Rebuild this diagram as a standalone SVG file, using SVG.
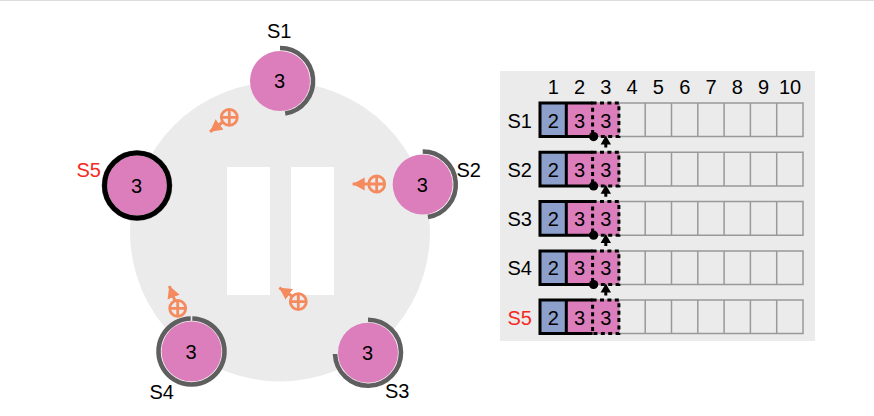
<svg xmlns="http://www.w3.org/2000/svg" xmlns:xlink="http://www.w3.org/1999/xlink" width="874" height="416" viewBox="0 0 874 416">
<style>
text{font-family:"Liberation Sans",Arial,sans-serif;font-size:20px;fill:#000}
.m{text-anchor:middle}
.red{fill:#f5291e}
.disc{fill:#dc7ebb}
.arc{fill:none;stroke:#5f5f5f;stroke-width:4.6}
.ring{fill:none;stroke:#000;stroke-width:5}
.o{fill:none;stroke:#f58a5e;stroke-width:2.8}
.a{fill:none;stroke:#f58a5e;stroke-width:3;marker-end:url(#ah)}
.g{fill:#ebebeb;stroke:#999;stroke-width:1.5}
.b{fill:#8da0cb}
.p{fill:#dc7ebb}
.s{fill:none;stroke:#000;stroke-width:3}
.d{fill:none;stroke:#000;stroke-width:3;stroke-dasharray:4 3.4}
</style>
<defs>
<marker id="ah" markerUnits="userSpaceOnUse" markerWidth="13" markerHeight="14" refX="12" refY="7" orient="auto"><path d="M0,0.5L12,7L0,13.5Z" fill="#f58a5e"/></marker>
<g id="plus"><circle class="o" r="8"/><path class="o" d="M-8,0H8M0,-8V8"/></g>
<g id="cells">
<path class="g" d="M566.3,0H803V33.6H566.3ZM592.6,0V33.6M618.9,0V33.6M645.2,0V33.6M671.5,0V33.6M697.8,0V33.6M724.1,0V33.6M750.4,0V33.6M776.7,0V33.6"/>
<rect class="b" x="540" width="26.3" height="33.6"/>
<rect class="p" x="566.3" width="26.3" height="33.6"/>
<rect class="p" x="592.6" width="26.3" height="33.6"/>
<path class="s" d="M592.6,0H540V33.6H592.6M566.3,0V33.6"/>
<rect class="d" x="592.6" width="26.3" height="33.6"/>
<text class="m" x="553.2" y="24.5">2</text>
<text class="m" x="579.5" y="24.5">3</text>
<text class="m" x="605.8" y="24.5">3</text>
</g>
<g id="mark">
<circle cx="593.6" cy="33.6" r="4.6" fill="#000"/>
<path d="M605.8,32.5L611,41.5H607.3V44.5H604.3V41.5H600.6Z" fill="#000"/>
</g>
</defs>
<rect width="874" height="416" fill="#fff"/>
<rect width="874" height="1" fill="#dcdcdc"/>
<g id="ring-area">
<circle cx="280" cy="231.5" r="150" fill="#ebebeb"/>
<rect x="227" y="167" width="43" height="128" fill="#fff"/>
<rect x="291" y="167" width="43" height="128" fill="#fff"/>
</g>
<g id="connectors">
<path class="a" d="M222.5,122.2L210,131.7"/>
<path class="a" d="M368.7,184H352.7"/>
<path class="a" d="M175,300.7L169.3,286"/>
<path class="a" d="M292.2,296.3L279.3,287.7"/>
</g>
<use xlink:href="#plus" href="#plus" x="229.3" y="117.3"/>
<use xlink:href="#plus" href="#plus" x="376.7" y="184"/>
<use xlink:href="#plus" href="#plus" x="177.7" y="308.3"/>
<use xlink:href="#plus" href="#plus" x="298.3" y="301.7"/>
<g id="S1">
<circle class="disc" cx="280" cy="81" r="30"/>
<path class="arc" d="M280,48A33,33 0 0 1 285.2,113.6"/>
<text class="m" x="279.5" y="88">3</text>
<text x="267" y="38">S1</text>
</g>
<g id="S2">
<circle class="disc" cx="422.7" cy="184.5" r="30"/>
<path class="arc" d="M422.7,151.5A33,33 0 0 1 427.9,217.1"/>
<text class="m" x="422.2" y="191.5">3</text>
<text x="456.5" y="176.7">S2</text>
</g>
<g id="S3">
<circle class="disc" cx="368" cy="352.7" r="30"/>
<path class="arc" d="M368,319.7A33,33 0 1 1 335,354"/>
<text class="m" x="367.5" y="359.5">3</text>
<text x="385" y="398">S3</text>
</g>
<g id="S4">
<circle class="disc" cx="191.5" cy="351.5" r="30"/>
<path class="arc" d="M192.3,318.5A33,33 0 1 1 190.7,318.5"/>
<text class="m" x="191" y="358.5">3</text>
<text x="149.5" y="399">S4</text>
</g>
<g id="S5">
<circle class="disc" cx="137" cy="185.5" r="30"/>
<circle cx="137" cy="185.5" r="33" fill="none" stroke="#5f5f5f" stroke-width="4.6"/>
<circle class="ring" cx="137" cy="185.5" r="32.4"/>
<text class="m" x="136.5" y="192.5">3</text>
<text class="red" x="76.5" y="176.7">S5</text>
</g>
<g id="table">
<rect x="500" y="71" width="315" height="270" fill="#ebebeb"/>
<g id="header">
<text class="m" x="553.2" y="94">1</text>
<text class="m" x="579.5" y="94">2</text>
<text class="m" x="605.8" y="94">3</text>
<text class="m" x="632" y="94">4</text>
<text class="m" x="658.4" y="94">5</text>
<text class="m" x="684.7" y="94">6</text>
<text class="m" x="711" y="94">7</text>
<text class="m" x="737.3" y="94">8</text>
<text class="m" x="763.6" y="94">9</text>
<text class="m" x="790" y="94">10</text>
</g>
<g id="row-S1"><text x="507.5" y="127.5">S1</text><use xlink:href="#cells" href="#cells" y="103"/><use xlink:href="#mark" href="#mark" y="103"/></g>
<g id="row-S2"><text x="507.5" y="176.5">S2</text><use xlink:href="#cells" href="#cells" y="152.3"/><use xlink:href="#mark" href="#mark" y="152.3"/></g>
<g id="row-S3"><text x="507.5" y="226">S3</text><use xlink:href="#cells" href="#cells" y="201.6"/><use xlink:href="#mark" href="#mark" y="201.6"/></g>
<g id="row-S4"><text x="507.5" y="275">S4</text><use xlink:href="#cells" href="#cells" y="250.9"/><use xlink:href="#mark" href="#mark" y="250.9"/></g>
<g id="row-S5"><text class="red" x="507.5" y="324.5">S5</text><use xlink:href="#cells" href="#cells" y="300"/></g>
</g>
</svg>
